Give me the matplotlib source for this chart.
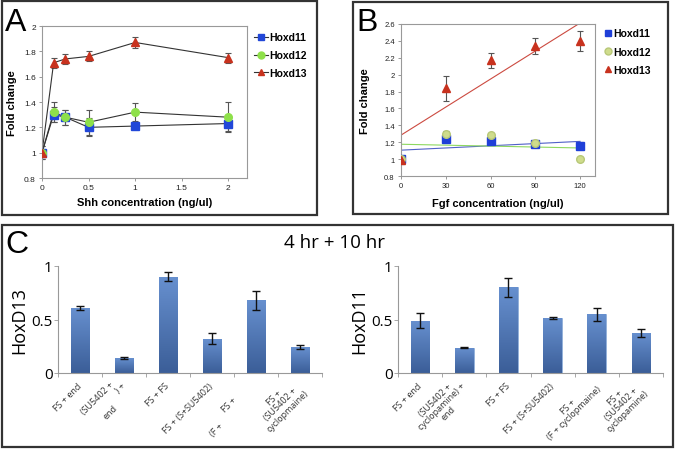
import numpy as np
import matplotlib.pyplot as plt
import matplotlib.transforms as mtransforms
from matplotlib.patches import Rectangle
from matplotlib.colors import LinearSegmentedColormap

W, H = 677, 452

# --- data ---
shh_conc = [0, 0.125, 0.25, 0.5, 1, 2]
a_hoxd11 = [1.00, 1.30, 1.28, 1.20, 1.21, 1.23]
a_hoxd11_err = [0.05, 0.06, 0.06, 0.07, 0.02, 0.06]
a_hoxd12 = [1.00, 1.32, 1.28, 1.24, 1.32, 1.28]
a_hoxd12_err = [0.05, 0.08, 0.06, 0.10, 0.07, 0.12]
a_hoxd13 = [1.00, 1.71, 1.74, 1.76, 1.87, 1.75]
a_hoxd13_err = [0.03, 0.04, 0.04, 0.04, 0.04, 0.04]

fgf_conc = [0, 30, 60, 90, 120]
b_hoxd11 = [1.00, 1.24, 1.21, 1.18, 1.16]
b_hoxd11_err = [0.03, 0.04, 0.03, 0.02, 0.04]
b_hoxd12 = [1.00, 1.30, 1.28, 1.19, 1.00]
b_hoxd12_err = [0.03, 0.03, 0.03, 0.02, 0.02]
b_hoxd13 = [0.99, 1.84, 2.17, 2.34, 2.40]
b_hoxd13_err = [0.05, 0.15, 0.09, 0.10, 0.12]

left_labels = ["FS + end", "(SU5402 +\n                    ) +\nend", "FS + FS",
               "FS + (S+SU5402)", "FS +\n(F +                      ", "FS +\n(SU5402 +\ncyclopmaine)"]
right_labels = ["FS + end", "(SU5402 +\ncyclopamine) +\nend", "FS + FS",
                "FS + (S+SU5402)", "FS +\n(F + cyclopmaine)", "FS +\n(SU5402 +\ncyclopamine)"]
hoxd13_c = [0.61, 0.14, 0.90, 0.32, 0.68, 0.24]
hoxd13_c_err = [0.02, 0.01, 0.04, 0.05, 0.09, 0.02]
hoxd11_c = [0.49, 0.235, 0.80, 0.515, 0.55, 0.375]
hoxd11_c_err = [0.07, 0.005, 0.09, 0.01, 0.06, 0.04]


def rect(l, t, r, b):
    return [l / W, 1 - b / H, (r - l) / W, (b - t) / H]


def fx(x):
    return x / W


def fy(y):
    return 1 - y / H


fig = plt.figure(figsize=(W / 100, H / 100), dpi=100)
sans = 'Liberation Sans'

# panel frames
for l, t, r, b in [(2, 2, 317, 216), (353, 3, 668, 215), (2, 226, 673, 448)]:
    fig.patches.append(Rectangle((fx(l), fy(b)), fx(r - l), (b - t) / H, transform=fig.transFigure,
                                 fill=False, edgecolor='#333333', lw=1.6))

for letter, x, y in [('A', 5, 31), ('B', 356, 31), ('C', 5, 253)]:
    fig.text(fx(x), fy(y), letter, fontsize=23, family=sans, va='baseline', ha='left')


def frame_axes(ax):
    for s in ax.spines.values():
        s.set_color('#999999')
        s.set_linewidth(0.8)
    ax.tick_params(labelsize=6, length=2.5, width=0.6, color='#888888', labelcolor='#222222', pad=2)
    for t in ax.get_xticklabels() + ax.get_yticklabels():
        t.set_family(sans)


# --- panel A ---
ax = fig.add_axes(rect(42, 27, 247, 179))
series_a = [(a_hoxd11, a_hoxd11_err, 's', '#2147d8', 'Hoxd11'),
            (a_hoxd12, a_hoxd12_err, 'o', '#8ee04a', 'Hoxd12'),
            (a_hoxd13, a_hoxd13_err, '^', '#c8321e', 'Hoxd13')]
for vals, err, m, c, lab in series_a:
    ax.errorbar(shh_conc, vals, yerr=err, fmt='none', ecolor='#555555', elinewidth=0.8, capsize=2, capthick=0.8)
    ax.plot(shh_conc, vals, color='#333333', lw=0.8, zorder=2)
    ax.plot(shh_conc, vals, ls='none', marker=m, color=c, markersize=5.5, zorder=3)
ax.set_xlim(0, 2.2)
ax.set_ylim(0.8, 2.0)
ax.set_xticks([0, 0.5, 1, 1.5, 2])
ax.set_xticklabels(['0', '0.5', '1', '1.5', '2'])
ax.set_yticks(np.arange(0.8, 2.01, 0.2))
ax.set_yticklabels(['0.8', '1', '1.2', '1.4', '1.6', '1.8', '2'])
frame_axes(ax)
ax.set_xlabel('Shh concentration (ng/ul)', fontsize=8, fontweight='bold', family=sans, labelpad=4)
ax.set_ylabel('Fold change', fontsize=8, fontweight='bold', family=sans, labelpad=5)
handles = [plt.Line2D([], [], color='#333333', lw=0.8, marker=m, markerfacecolor=c, markeredgecolor=c,
                      markersize=5) for _, _, m, c, _ in series_a]
ax.legend(handles, [s[4] for s in series_a], loc='upper left', bbox_to_anchor=(fx(245), fy(24)),
          bbox_transform=fig.transFigure, frameon=False, handlelength=1.3, handletextpad=0.1,
          labelspacing=0.75, prop={'family': sans, 'weight': 'bold', 'size': 7.5})

# --- panel B ---
ax = fig.add_axes(rect(401, 25, 595, 177))
series_b = [(b_hoxd11, b_hoxd11_err, 's', '#1f3fd8', '#1f3fd8', '#5060c8', 'Hoxd11'),
            (b_hoxd12, b_hoxd12_err, 'o', '#cfdc8c', '#b8c878', '#8ed860', 'Hoxd12'),
            (b_hoxd13, b_hoxd13_err, '^', '#c8321e', '#c8321e', '#cc4a40', 'Hoxd13')]
xs = np.array(fgf_conc, dtype=float)
for vals, err, m, c, ec, lc, lab in series_b:
    ax.errorbar(fgf_conc, vals, yerr=err, fmt='none', ecolor='#555555', elinewidth=0.8, capsize=2, capthick=0.8)
    ax.plot(fgf_conc, vals, ls='none', marker=m, color=c, markeredgecolor=ec, markersize=5.5, zorder=3)
    k, b0 = np.polyfit(xs, vals, 1)
    ax.plot([0, 120], [b0, b0 + k * 120], color=lc, lw=0.8, zorder=2)
ax.set_xlim(0, 130)
ax.set_ylim(0.8, 2.6)
ax.set_xticks(fgf_conc)
ax.set_yticks(np.arange(0.8, 2.61, 0.2))
ax.set_yticklabels(['0.8', '1', '1.2', '1.4', '1.6', '1.8', '2', '2.2', '2.4', '2.6'])
frame_axes(ax)
ax.tick_params(labelsize=5.5)
ax.set_xlabel('Fgf concentration (ng/ul)', fontsize=8, fontweight='bold', family=sans, labelpad=6)
ax.set_ylabel('Fold change', fontsize=8, fontweight='bold', family=sans, labelpad=10)
handles = [plt.Line2D([], [], ls='none', marker=m, markerfacecolor=c, markeredgecolor=ec, markersize=5)
           for _, _, m, c, ec, _, _ in series_b]
ax.legend(handles, [s[6] for s in series_b], loc='upper left', bbox_to_anchor=(fx(594), fy(20)),
          bbox_transform=fig.transFigure, frameon=False, handlelength=0.8, handletextpad=0.1,
          labelspacing=0.8, prop={'family': sans, 'weight': 'bold', 'size': 7.5})

# --- panel C ---
fig.text(fx(335), fy(243), '4 hr + 10 hr', fontsize=13.5, family='Open Sans', ha='center', va='center')
grad = np.linspace(1, 0, 100).reshape(-1, 1)
bar_cmap = LinearSegmentedColormap.from_list('bar', ['#3b5e98', '#6790cf'])
shift = mtransforms.ScaledTranslation(4 / 100, 0, fig.dpi_scale_trans)

for l, r, vals, err, labels, ylab in [(58, 322, hoxd13_c, hoxd13_c_err, left_labels, 'HoxD13'),
                                      (398, 663, hoxd11_c, hoxd11_c_err, right_labels, 'HoxD11')]:
    ax = fig.add_axes(rect(l, 267, r, 374))
    pos = np.arange(len(vals))
    bars = ax.bar(pos, vals, width=0.42, color='#4a72b0', edgecolor='#8fb0dc', lw=0.5, zorder=2)
    for bar in bars:
        x0, w, h = bar.get_x(), bar.get_width(), bar.get_height()
        im = ax.imshow(grad, cmap=bar_cmap, extent=(x0, x0 + w, 0, h), aspect='auto', zorder=2.5)
        im.set_clip_path(bar)
    ax.errorbar(pos, vals, yerr=err, fmt='none', ecolor='#111111', elinewidth=1, capsize=3, capthick=1, zorder=4)
    ax.set_xlim(-0.5, len(vals) - 0.5)
    ax.set_ylim(0, 1)
    for s in ['top', 'right']:
        ax.spines[s].set_visible(False)
    for s in ['left', 'bottom']:
        ax.spines[s].set_color('#999999')
        ax.spines[s].set_linewidth(0.8)
    ax.set_yticks([0, 0.5, 1])
    ax.set_yticklabels(['0', '0.5', '1'])
    ax.set_xticks(pos)
    ax.set_xticks(np.arange(-0.5, len(vals), 1), minor=True)
    ax.set_xticklabels(labels, rotation=45, ha='right', va='center', rotation_mode='anchor',
                       multialignment='center', fontsize=6.5, family='Open Sans', color='#333333',
                       linespacing=1.05)
    for t in ax.get_xticklabels():
        t.set_transform(t.get_transform() + shift)
    ax.tick_params(axis='x', which='major', length=0, pad=8)
    ax.tick_params(axis='x', which='minor', length=3, color='#999999', width=0.6)
    ax.tick_params(axis='y', length=3, color='#999999', width=0.6, labelsize=11, pad=1)
    for t in ax.get_yticklabels():
        t.set_family('Open Sans')
    ax.set_ylabel(ylab, fontsize=13, family='Open Sans', labelpad=2)

fig.savefig('out.png', dpi=100)
